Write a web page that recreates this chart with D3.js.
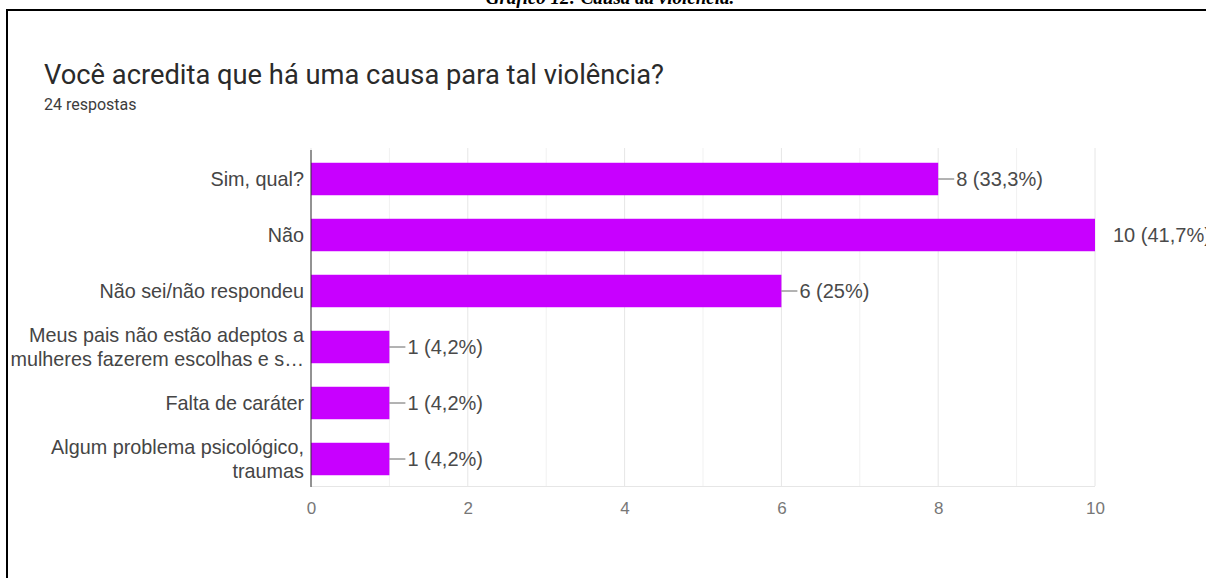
<!DOCTYPE html>
<html>
<head>
<meta charset="utf-8">
<script src="https://cdn.jsdelivr.net/npm/d3@7"></script>
<style>
  html, body { margin: 0; padding: 0; background: #fff; overflow: hidden; }
  svg { display: block; }
</style>
</head>
<body>
<svg id="chart" width="1206" height="578"></svg>
<script>
// Survey answers: "Você acredita que há uma causa para tal violência?"
const categories = [
  "Sim, qual?",
  "Não",
  "Não sei/não respondeu",
  "Meus pais não estão adeptos a|mulheres fazerem escolhas e s…",
  "Falta de caráter",
  "Algum problema psicológico,|traumas"
];
const counts = [8, 10, 6, 1, 1, 1];
const percents = ["33,3%", "41,7%", "25%", "4,2%", "4,2%", "4,2%"];
const xTicks = [0, 2, 4, 6, 8, 10];

const svg = d3.select("#chart");

// Caption above the frame (partly cut by the top edge)
svg.append("text")
  .attr("x", 610).attr("y", 4)
  .attr("text-anchor", "middle")
  .attr("font-family", "Liberation Serif, Times New Roman, serif")
  .attr("font-weight", "bold").attr("font-style", "italic")
  .attr("font-size", 19).attr("fill", "#000")
  .text("Gráfico 12: Causa da violência.");

// Frame
svg.append("line").attr("x1", 6).attr("x2", 1206).attr("y1", 10).attr("y2", 10)
  .attr("stroke", "#000").attr("stroke-width", 2);
svg.append("line").attr("x1", 7).attr("x2", 7).attr("y1", 9).attr("y2", 578)
  .attr("stroke", "#000").attr("stroke-width", 2);

// Titles
svg.append("text").attr("x", 44).attr("y", 84)
  .attr("font-family", "Roboto, Arial, sans-serif")
  .attr("font-size", 27.3).attr("fill", "#2a2a2a")
  .text("Você acredita que há uma causa para tal violência?");
svg.append("text").attr("x", 44).attr("y", 110)
  .attr("font-family", "Roboto, Arial, sans-serif")
  .attr("font-size", 16).attr("fill", "#3c3c3c")
  .text("24 respostas");

const x = d3.scaleLinear().domain([0, 10]).range([311, 1095]);
const y = d3.scaleBand().domain(categories).range([151, 487]).paddingInner(0.42).paddingOuter(0.21);

const font = "Liberation Sans, Arial, sans-serif";

// Grid lines (every unit)
const grid = svg.append("g");
grid.selectAll("line").data(d3.range(0, 11)).join("line")
  .attr("x1", d => x(d)).attr("x2", d => x(d))
  .attr("y1", 148).attr("y2", 486)
  .attr("stroke", d => d % 2 === 0 ? "#e6e6e6" : "#f1f1f1").attr("stroke-width", 1);
grid.append("line").attr("x1", x(0)).attr("x2", x(10)).attr("y1", 486.5).attr("y2", 486.5)
  .attr("stroke", "#e6e6e6");

// Bars
svg.append("g").selectAll("rect").data(categories).join("rect")
  .attr("x", x(0))
  .attr("y", d => y(d))
  .attr("width", (d, i) => x(counts[i]) - x(0))
  .attr("height", y.bandwidth())
  .attr("fill", "#c800ff");

// Value labels with leader lines
const vl = svg.append("g");
categories.forEach((c, i) => {
  const cy = y(c) + y.bandwidth() / 2;
  const isMax = counts[i] === d3.max(counts);
  const x0 = x(counts[i]);
  if (!isMax) {
    vl.append("line").attr("x1", x0).attr("x2", x0 + 16).attr("y1", cy).attr("y2", cy)
      .attr("stroke", "#666").attr("stroke-width", 1);
  }
  vl.append("text")
    .attr("x", x0 + 18)
    .attr("y", cy).attr("dy", "0.35em")
    .attr("font-family", font).attr("font-size", 20).attr("fill", "#4a4a4a")
    .text(`${counts[i]} (${percents[i]})`);
});

// Y axis line and category labels
svg.append("line").attr("x1", x(0)).attr("x2", x(0)).attr("y1", 150).attr("y2", 487)
  .attr("stroke", "#333").attr("stroke-width", 1);
const yl = svg.append("g");
categories.forEach(c => {
  const lines = c.split("|");
  const cy = y(c) + y.bandwidth() / 2;
  const lh = 24;
  lines.forEach((ln, k) => {
    yl.append("text")
      .attr("x", 304)
      .attr("y", cy + (k - (lines.length - 1) / 2) * lh).attr("dy", "0.35em")
      .attr("text-anchor", "end")
      .attr("font-family", font).attr("font-size", 19.8).attr("fill", "#454545")
      .text(ln);
  });
});

// X axis tick labels
const xAxis = d3.axisBottom(x).tickValues(xTicks).tickSize(0).tickPadding(0);
const gx = svg.append("g").attr("transform", "translate(0,502)").call(xAxis);
gx.select(".domain").remove();
gx.selectAll("text").attr("font-family", font).attr("font-size", 17).attr("fill", "#777");
</script>
</body>
</html>
